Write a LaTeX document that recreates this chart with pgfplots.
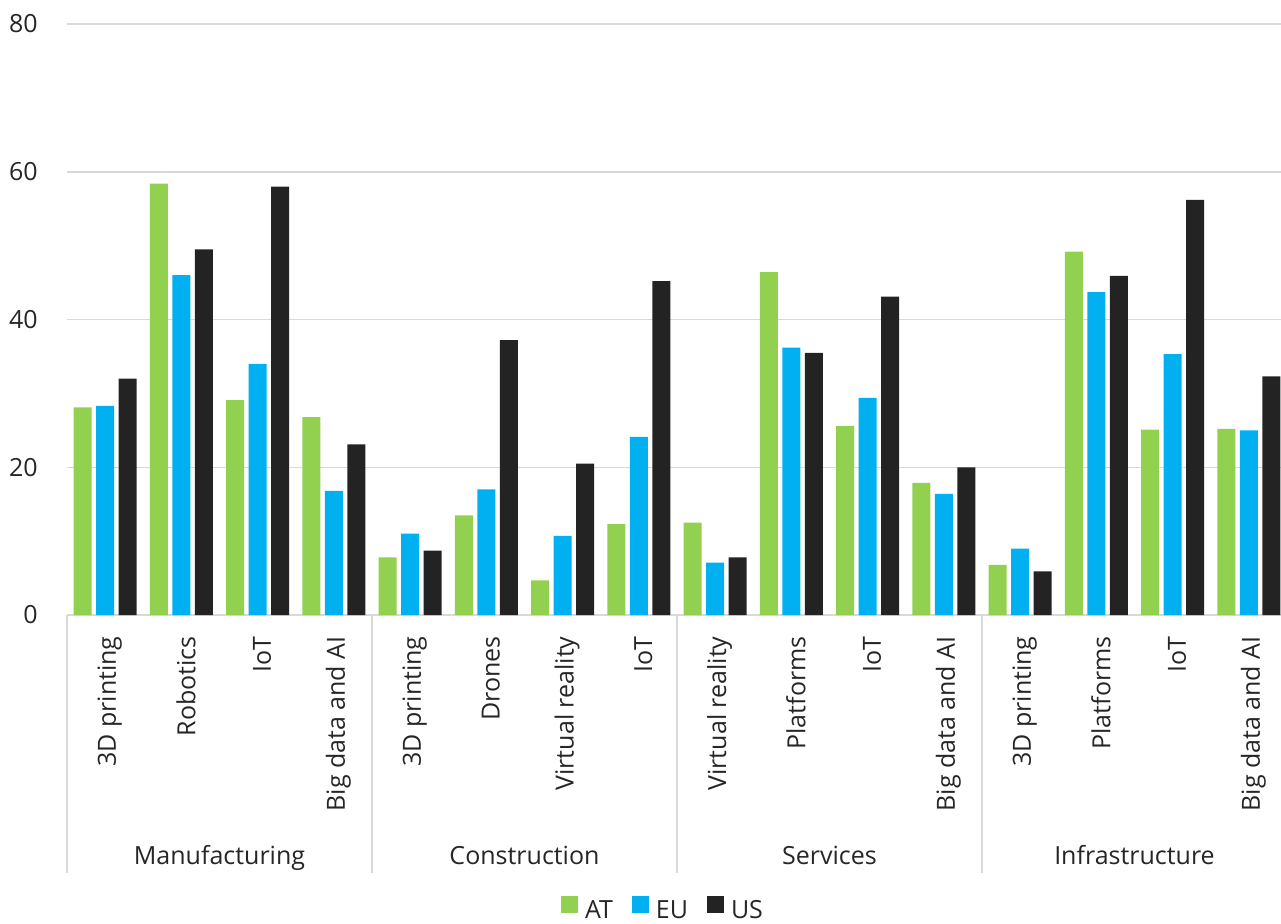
\documentclass[border=0pt]{standalone}
\usepackage{fontspec}
\setmainfont{Open Sans}
\usepackage{pgfplots}
\pgfplotsset{compat=1.18}

\definecolor{cAT}{HTML}{92D050}
\definecolor{cEU}{HTML}{00B0F0}
\definecolor{cUS}{HTML}{232323}
\definecolor{txt}{HTML}{262626}
\definecolor{gridc}{HTML}{D9D9D9}

% x: 0..15 = sub-categories, four per sector
\pgfplotstableread{
x AT EU US
0 28.1 28.3 32.0
1 58.4 46.0 49.5
2 29.1 34.0 58.0
3 26.8 16.8 23.1
4 7.8 11.0 8.7
5 13.5 17.0 37.2
6 4.7 10.7 20.5
7 12.3 24.1 45.2
8 12.5 7.1 7.8
9 46.4 36.2 35.5
10 25.6 29.4 43.1
11 17.9 16.4 20.0
12 6.8 9.0 5.9
13 49.2 43.7 45.9
14 25.1 35.3 56.2
15 25.2 25.0 32.3
}\data

\begin{document}
\fontsize{12.5}{15}\selectfont
\begin{tikzpicture}
\begin{axis}[
  scale only axis,
  width=610pt, height=295.5pt,
  xmin=-0.5, xmax=15.5,
  ymin=0, ymax=80,
  ytick={0,20,40,60,80},
  xtick={0,...,15},
  xticklabels={3D printing,Robotics,IoT,Big data and AI,
               3D printing,Drones,Virtual reality,IoT,
               Virtual reality,Platforms,IoT,Big data and AI,
               3D printing,Platforms,IoT,Big data and AI},
  ybar=2.3pt, bar width=9pt,
  major tick length=0pt,
  axis line style={draw=none},
  ymajorgrids, grid style={gridc, line width=0.75pt},
  /pgf/number format/assume math mode=true,
  tick label style={text=txt},
  xticklabel style={xshift=2.25pt, rotate=90, anchor=east, inner sep=0pt},
  xticklabel shift=10.5pt,
  yticklabel style={anchor=east, inner sep=0pt},
  yticklabel shift=14.5pt,
  clip=false,
  legend columns=-1,
  legend style={at={(0.4877,-0.4975)}, anchor=center, draw=none, text=txt,
    nodes={inner sep=0pt},
    /tikz/every odd column/.append style={column sep=3.5pt},
    /tikz/every even column/.append style={column sep=9.5pt}},
  legend image code/.code={\fill[#1] (0pt,-0.5pt) rectangle (8.5pt,8pt);},
]
\addplot[fill=cAT, draw=none] table[x=x, y=AT] {\data};
\addplot[fill=cEU, draw=none] table[x=x, y=EU] {\data};
\addplot[fill=cUS, draw=none] table[x=x, y=US] {\data};
\legend{AT, EU, US}

\draw[gridc, line width=0.75pt] (axis cs:-0.5,0) -- ([yshift=-129pt]axis cs:-0.5,0);
\draw[gridc, line width=0.75pt] (axis cs:3.5,0) -- ([yshift=-129pt]axis cs:3.5,0);
\draw[gridc, line width=0.75pt] (axis cs:7.5,0) -- ([yshift=-129pt]axis cs:7.5,0);
\draw[gridc, line width=0.75pt] (axis cs:11.5,0) -- ([yshift=-129pt]axis cs:11.5,0);
\draw[gridc, line width=0.75pt] (axis cs:15.5,0) -- ([yshift=-129pt]axis cs:15.5,0);
\node[text=txt, anchor=base] at ([yshift=-124.5pt]axis cs:1.5,0) {Manufacturing};
\node[text=txt, anchor=base] at ([yshift=-124.5pt]axis cs:5.5,0) {Construction};
\node[text=txt, anchor=base] at ([yshift=-124.5pt]axis cs:9.5,0) {Services};
\node[text=txt, anchor=base] at ([yshift=-124.5pt]axis cs:13.5,0) {Infrastructure};
\end{axis}
\pgfresetboundingbox
\path[use as bounding box] (-33.5pt,-154pt) rectangle (607pt,307.5pt);
\end{tikzpicture}
\end{document}
